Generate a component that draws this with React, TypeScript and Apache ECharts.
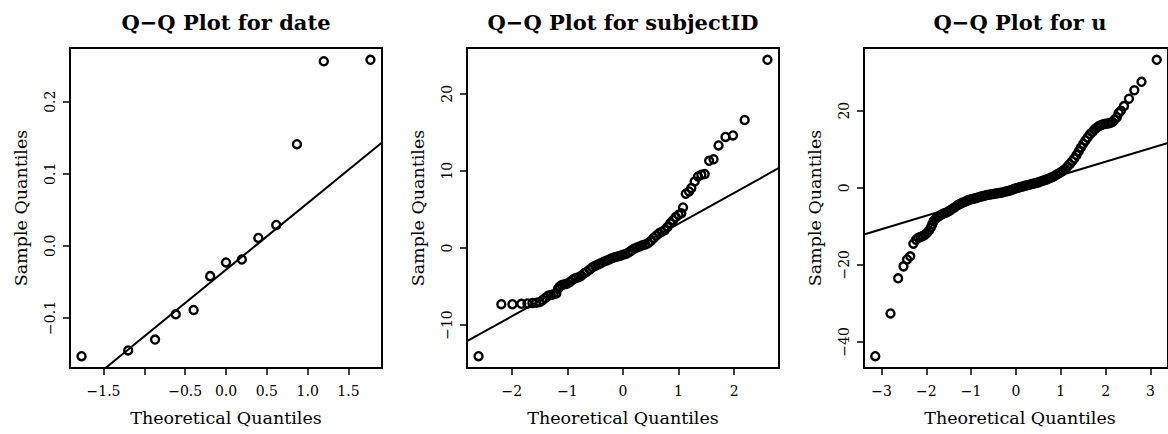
import React, { useEffect, useRef } from "react";
import * as echarts from "echarts";

// ---------- Panel 1: date ----------
const dateTheoretical = [-1.769, -1.198, -0.869, -0.615, -0.396, -0.194, 0, 0.194, 0.396, 0.615, 0.869, 1.198, 1.769];
const dateSample = [-0.153, -0.145, -0.130, -0.095, -0.089, -0.042, -0.023, -0.019, 0.011, 0.029, 0.141, 0.256, 0.258];
const dateLine = { intercept: -0.0331, slope: 0.0924 };
const dateXTicks = [-1.5, -1, -0.5, 0, 0.5, 1, 1.5];
const dateXLabels = [-1.5, -0.5, 0, 0.5, 1, 1.5];
const dateYTicks = [-0.1, 0, 0.1, 0.2];

// ---------- Panel 2: subjectID ----------
const subjectTheoretical = [
  -2.60, -2.19, -1.99, -1.83, -1.72, -1.63, -1.56,
  -1.50, -1.45, -1.40, -1.35, -1.30, -1.25, -1.20, -1.17, -1.14, -1.10, -1.05, -1.00, -0.95, -0.90, -0.85, -0.80,
  -0.75, -0.70, -0.65, -0.60, -0.55, -0.50, -0.45, -0.40, -0.35, -0.30, -0.25, -0.20, -0.15, -0.10, -0.05, 0.00,
  0.05, 0.10, 0.15, 0.20, 0.25, 0.30, 0.35, 0.40, 0.45, 0.50, 0.55, 0.60, 0.65, 0.70, 0.75, 0.80, 0.85, 0.90,
  0.95, 1.00, 1.05,
  1.08, 1.13, 1.19, 1.23, 1.29, 1.35, 1.41, 1.47, 1.55, 1.63, 1.72, 1.845, 1.98, 2.19, 2.60,
];
const subjectSample = [
  -14.04, -7.3, -7.3, -7.25, -7.2, -7.15, -7.1,
  -7.0, -6.8, -6.5, -6.2, -6.1, -6.0, -5.9, -5.3, -5.0, -4.8, -4.7, -4.6, -4.4, -4.1, -3.9, -3.8,
  -3.6, -3.3, -3.1, -2.8, -2.5, -2.3, -2.15, -2.0, -1.8, -1.65, -1.5, -1.35, -1.2, -1.1, -1.0, -0.9,
  -0.8, -0.6, -0.35, -0.1, 0.05, 0.2, 0.35, 0.45, 0.6, 0.9, 1.3, 1.6, 1.9, 2.1, 2.3, 2.7, 3.2, 3.6,
  4.0, 4.3, 4.5,
  5.26, 7.03, 7.33, 7.77, 8.63, 9.27, 9.5, 9.58, 11.3, 11.5, 13.3, 14.4, 14.6, 16.6, 24.4,
];
const subjectLine = { intercept: -0.86, slope: 4.0 };
const subjectXTicks = [-2, -1, 0, 1, 2];
const subjectYTicks = [-10, 0, 10, 20];

// ---------- Panel 3: u ----------
const uTheoretical = [
  -3.14, -2.80, -2.63, -2.51, -2.43, -2.36, -2.29, -2.23,
  -2.18, -2.13, -2.08, -2.03, -1.98, -1.94, -1.90, -1.87, -1.84, -1.80, -1.75, -1.70, -1.65, -1.60, -1.55, -1.50,
  -1.45, -1.40, -1.35, -1.30, -1.25, -1.20, -1.15, -1.10, -1.05, -1.00, -0.95, -0.90, -0.85, -0.80, -0.75, -0.70,
  -0.65, -0.60, -0.55, -0.50, -0.45, -0.40, -0.35, -0.30, -0.25, -0.20, -0.15, -0.10, -0.05, 0.00,
  0.05, 0.10, 0.15, 0.20, 0.25, 0.30, 0.35, 0.40, 0.45, 0.50, 0.55, 0.60, 0.65, 0.70, 0.75, 0.80, 0.85, 0.90,
  0.95, 1.00, 1.05, 1.10, 1.15, 1.20, 1.25, 1.30, 1.35, 1.40, 1.45, 1.50, 1.55, 1.60, 1.65, 1.70, 1.75, 1.80,
  1.85, 1.90, 1.95, 2.00, 2.05, 2.10, 2.15, 2.20,
  2.25, 2.29, 2.34, 2.41, 2.52, 2.64, 2.80, 3.14,
];
const uSample = [
  -43.7, -32.6, -23.5, -20.4, -18.6, -17.8, -14.5, -13.5,
  -13.0, -12.8, -12.5, -12.2, -11.7, -11.0, -10.3, -9.5, -8.7, -8.1, -7.6, -7.2, -6.9, -6.6, -6.4, -6.1,
  -5.7, -5.3, -4.9, -4.5, -4.2, -3.9, -3.7, -3.4, -3.2, -3.0, -2.85, -2.7, -2.5, -2.35, -2.2, -2.05,
  -1.9, -1.8, -1.7, -1.6, -1.5, -1.4, -1.3, -1.2, -1.05, -0.9, -0.75, -0.55, -0.35, -0.15,
  0.0, 0.2, 0.35, 0.5, 0.65, 0.8, 0.95, 1.1, 1.25, 1.4, 1.6, 1.8, 2.0, 2.2, 2.45, 2.7, 3.0, 3.35,
  3.7, 4.05, 4.45, 4.9, 5.5, 6.2, 6.9, 7.6, 8.5, 9.5, 10.5, 11.4, 12.3, 13.1, 13.9, 14.5, 15.1, 15.6,
  16.0, 16.3, 16.5, 16.6, 16.7, 16.8, 17.1, 17.7,
  18.3, 19.4, 20.0, 21.2, 23.1, 25.3, 27.5, 33.2,
];
const uLine = { intercept: -0.23, slope: 3.505 };
const uXTicks = [-3, -2, -1, 0, 1, 2, 3];
const uYTicks = [-40, -20, 0, 20];

const titles = ["Q\u2212Q Plot for date", "Q\u2212Q Plot for subjectID", "Q\u2212Q Plot for u"];
const xAxisTitle = "Theoretical Quantiles";
const yAxisTitle = "Sample Quantiles";

const FONT = "DejaVu Serif";
const MINUS = "\u2212";

function fmt(v: number, d: number) {
  const s = Math.abs(v).toFixed(d);
  return (v < -1e-9 ? MINUS : "") + s;
}

function padRange(arr: number[]) {
  const mn = Math.min(...arr);
  const mx = Math.max(...arr);
  const r = mx - mn;
  return [mn - 0.04 * r, mx + 0.04 * r];
}

export default function App() {
  const ref = useRef<HTMLDivElement>(null);

  useEffect(() => {
    document.body.style.margin = "0";
    const chart = echarts.init(ref.current as HTMLDivElement, null, { renderer: "svg" });

    const panels = [
      { theo: dateTheoretical, samp: dateSample, line: dateLine, xTicks: dateXTicks, xLabels: dateXLabels, yTicks: dateYTicks, xd: 1, yd: 1 },
      { theo: subjectTheoretical, samp: subjectSample, line: subjectLine, xTicks: subjectXTicks, xLabels: subjectXTicks, yTicks: subjectYTicks, xd: 0, yd: 0 },
      { theo: uTheoretical, samp: uSample, line: uLine, xTicks: uXTicks, xLabels: uXTicks, yTicks: uYTicks, xd: 0, yd: 0 },
    ];

    const lefts = [70, 467, 864];
    const TOP = 48;
    const W = 312;
    const H = 320;

    const grids: any[] = [];
    const xAxes: any[] = [];
    const yAxes: any[] = [];
    const series: any[] = [];
    const graphics: any[] = [];

    panels.forEach((p, i) => {
      const [xmin, xmax] = padRange(p.theo);
      const [ymin, ymax] = padRange(p.samp);
      grids.push({
        left: lefts[i], top: TOP, width: W, height: H,
        show: true, borderColor: "#000", borderWidth: 2, backgroundColor: "transparent",
      });
      xAxes.push({
        gridIndex: i, type: "value", min: xmin, max: xmax, position: "bottom",
        axisLine: { show: false, onZero: false },
        splitLine: { show: false },
        axisTick: { show: true, inside: false, length: 7, customValues: p.xTicks, lineStyle: { color: "#000", width: 1.5 } },
        axisLabel: {
          customValues: p.xLabels, margin: 16, color: "#000", fontFamily: FONT, fontSize: 14,
          formatter: (v: number) => fmt(v, p.xd),
        },
      });
      yAxes.push({
        gridIndex: i, type: "value", min: ymin, max: ymax, position: "left",
        axisLine: { show: false, onZero: false },
        splitLine: { show: false },
        axisTick: { show: true, inside: false, length: 7, customValues: p.yTicks, lineStyle: { color: "#000", width: 1.5 } },
        axisLabel: {
          customValues: p.yTicks, margin: 13, rotate: 90, color: "#000", fontFamily: FONT, fontSize: 14,
          formatter: (v: number) => fmt(v, p.yd),
        },
      });
      series.push({
        type: "line", xAxisIndex: i, yAxisIndex: i, symbol: "none", clip: true, silent: true,
        lineStyle: { color: "#000", width: 2 },
        data: [
          [xmin, p.line.intercept + p.line.slope * xmin],
          [xmax, p.line.intercept + p.line.slope * xmax],
        ],
      });
      series.push({
        type: "scatter", xAxisIndex: i, yAxisIndex: i, symbol: "circle", symbolSize: 8, silent: true,
        itemStyle: { color: "rgba(0,0,0,0)", borderColor: "#000", borderWidth: 2.4, opacity: 1 },
        data: p.theo.map((x, k) => [x, p.samp[k]]),
      });
      const cx = lefts[i] + W / 2;
      graphics.push({
        type: "text", x: cx, y: 22,
        style: { text: titles[i], fill: "#000", font: `bold 21px '${FONT}'`, align: "center", verticalAlign: "middle" },
      });
      graphics.push({
        type: "text", x: cx, y: 418,
        style: { text: xAxisTitle, fill: "#000", font: `17.5px '${FONT}'`, align: "center", verticalAlign: "middle" },
      });
      graphics.push({
        type: "text", x: lefts[i] - 49.5, y: TOP + H / 2, rotation: Math.PI / 2,
        style: { text: yAxisTitle, fill: "#000", font: `17.5px '${FONT}'`, align: "center", verticalAlign: "middle" },
      });
    });

    chart.setOption({
      animation: false,
      backgroundColor: "#fff",
      grid: grids,
      xAxis: xAxes,
      yAxis: yAxes,
      series,
      graphic: graphics,
    });

    return () => chart.dispose();
  }, []);

  return <div ref={ref} style={{ width: 1168, height: 434 }} />;
}
